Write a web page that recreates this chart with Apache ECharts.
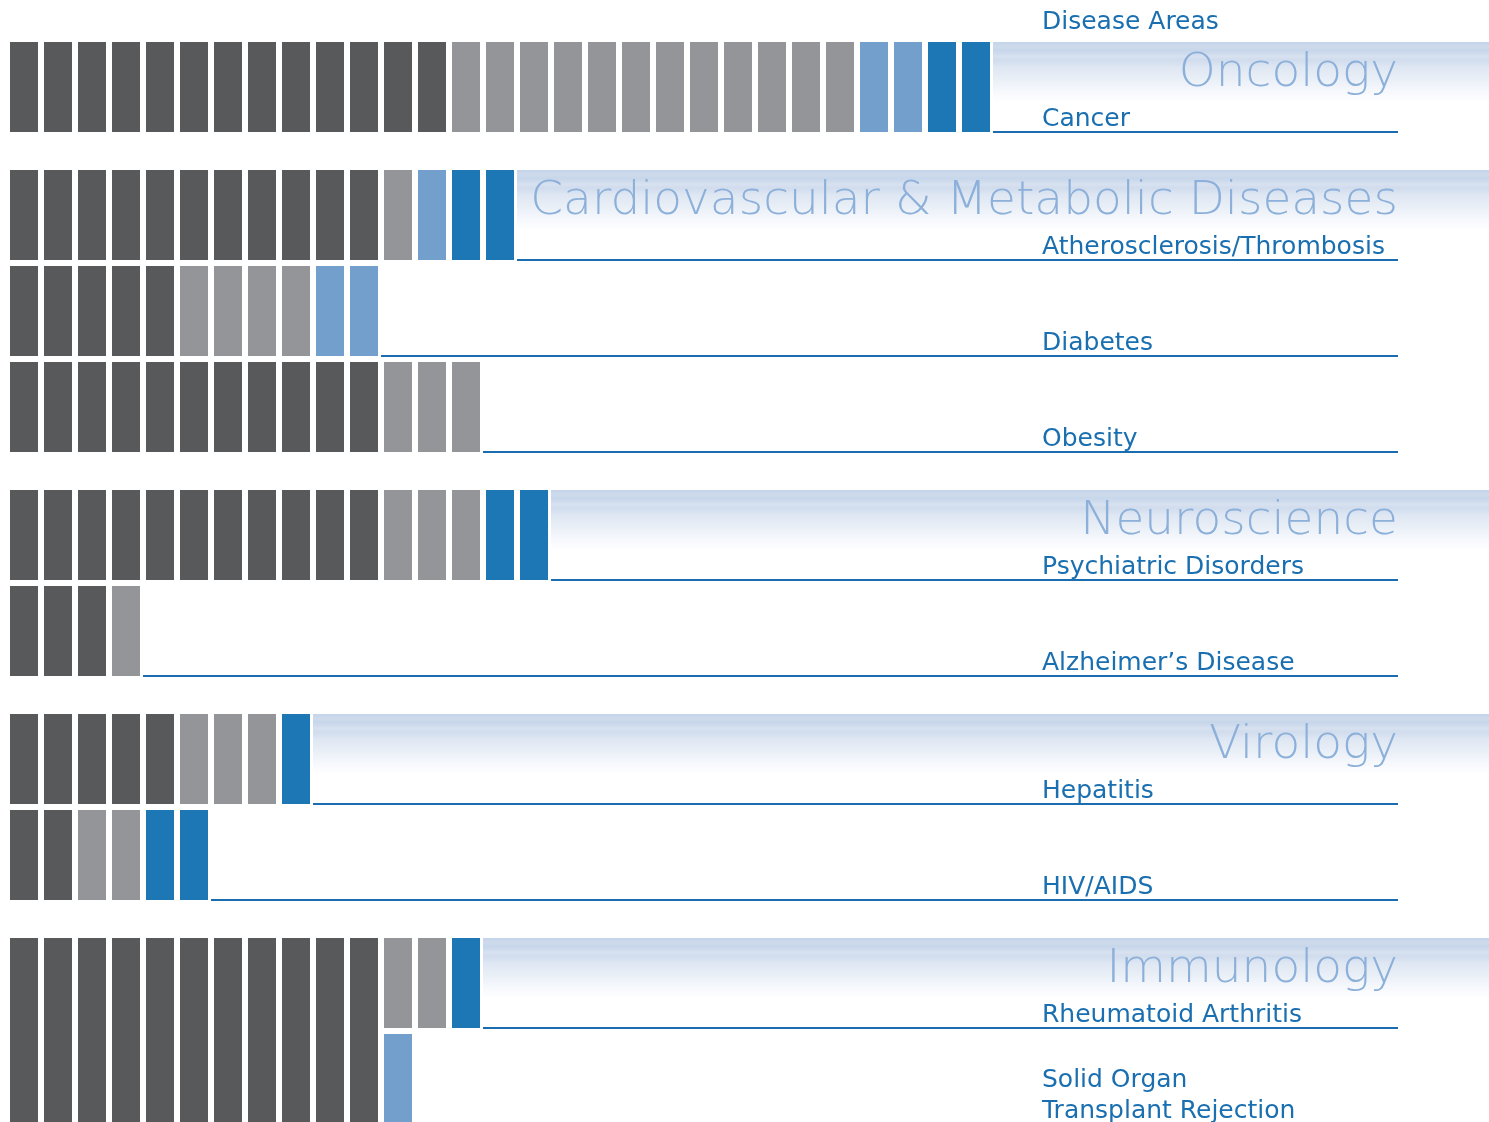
<!DOCTYPE html>
<html><head><meta charset="utf-8">
<script src="https://cdn.jsdelivr.net/npm/echarts@6/dist/echarts.min.js"></script>
<style>html,body{margin:0;padding:0;background:#fff;overflow:hidden}#c{width:1489px;height:1122px}</style>
</head><body><div id="c"></div>
<script>
// ---------------- data ----------------
const headerText = 'Disease Areas';
const groupNames = ['Oncology', 'Cardiovascular & Metabolic Diseases', 'Neuroscience', 'Virology', 'Immunology'];
const diseaseNames = ['Cancer', 'Atherosclerosis/Thrombosis', 'Diabetes', 'Obesity', 'Psychiatric Disorders',
  'Alzheimer\u2019s Disease', 'Hepatitis', 'HIV/AIDS', 'Rheumatoid Arthritis', 'Solid Organ\nTransplant Rejection'];
const diseaseGroup = [0, 1, 1, 1, 2, 2, 3, 3, 4, 4];
const stageNames = ['Stage 1', 'Stage 2', 'Stage 3', 'Stage 4'];
const stage1Counts = [13, 11, 5, 11, 11, 3, 5, 2, 11, 11];
const stage2Counts = [12, 1, 4, 3, 3, 1, 3, 2, 2, 0];
const stage3Counts = [2, 1, 2, 0, 0, 0, 0, 0, 0, 1];
const stage4Counts = [2, 2, 0, 0, 2, 0, 1, 2, 1, 0];
// stage-1 bars of this row are fused with the row above
const joinAbove = [false, false, false, false, false, false, false, false, false, true];

// ---------------- styles / layout ----------------
const stageColors = ['#58595b', '#939598', '#729fcb', '#1c77b4'];
const labelColor = '#1a6fb0';
const lineColor = '#1b6db0';
const titleColor = '#8cb0d9';
const PITCH = 34, BLOCK_W = 28, ROW_PX = 96, BLOCK_H = 90, GAP_PX = 6;
const GROUP_GAP = 1 / 3; // extra space (in rows) between groups
const LABEL_X = 1042, LINE_END_X = 1398;
const LABEL_SIZE = 25, LABEL_LH = 31, TITLE_SIZE = 47, TITLE_LH = 56;
const FONT = '"DejaVu Sans", "Noto Sans", sans-serif';
const MID = 0.346;

const stageCounts = [stage1Counts, stage2Counts, stage3Counts, stage4Counts];
const rowTop = diseaseNames.map((_, k) => k + diseaseGroup[k] * GROUP_GAP);

const blockData = [];
const rowData = [];
diseaseNames.forEach((name, k) => {
  let idx = 0;
  stageCounts.forEach((counts, s) => {
    for (let j = 0; j < counts[k]; j++) { blockData.push([idx, rowTop[k], s, k]); idx++; }
  });
  const first = k === 0 || diseaseGroup[k - 1] !== diseaseGroup[k];
  rowData.push([idx, rowTop[k], k, first ? 1 : 0]);
});

const chart = echarts.init(document.getElementById('c'), null, { renderer: 'canvas' });

function renderBlock(params, api) {
  const x0 = api.value(0), yT = api.value(1), s = api.value(2), k = api.value(3);
  const p0 = api.coord([x0, yT]);
  const p1 = api.coord([x0 + BLOCK_W / PITCH, yT + BLOCK_H / ROW_PX]);
  let top = p0[1];
  if (joinAbove[k] && s === 0 && k > 0) {
    top = api.coord([x0, rowTop[k - 1] + BLOCK_H / ROW_PX])[1] - 1;
  }
  return {
    type: 'rect',
    shape: { x: p0[0], y: top, width: p1[0] - p0[0], height: p1[1] - top },
    style: { fill: stageColors[s] }
  };
}

function renderRow(params, api) {
  const total = api.value(0), yT = api.value(1), k = api.value(2), first = api.value(3);
  const startX = api.coord([total - (GAP_PX / 2) / PITCH, yT])[0];
  const top = api.coord([0, yT])[1];
  const bottom = Math.round(api.coord([0, yT + BLOCK_H / ROW_PX])[1]);
  const W = api.getWidth();
  const children = [];
  if (first) {
    children.push({
      type: 'rect',
      shape: { x: startX, y: top, width: W - startX, height: 60 },
      style: {
        fill: new echarts.graphic.LinearGradient(0, 0, 0, 1, [
          { offset: 0, color: '#c4d4e9' },
          { offset: 0.08, color: '#cedbec' },
          { offset: 0.14, color: '#c7d6ea' },
          { offset: 0.24, color: '#d7e1f0' },
          { offset: 0.30, color: '#d0dced' },
          { offset: 0.42, color: '#dfe7f3' },
          { offset: 0.55, color: '#e5ecf5' },
          { offset: 0.72, color: '#f0f4fa' },
          { offset: 1, color: '#ffffff' }
        ])
      }
    });
    const tb = top + 48;
    children.push({
      type: 'text',
      style: {
        text: groupNames[diseaseGroup[k]], x: LINE_END_X, y: tb + TITLE_LH / 2 - MID * TITLE_SIZE,
        align: 'right', verticalAlign: 'bottom', lineHeight: TITLE_LH,
        font: '200 ' + TITLE_SIZE + 'px ' + FONT, fill: titleColor
      }
    });
  }
  children.push({
    type: 'line',
    shape: { x1: startX, y1: bottom, x2: LINE_END_X, y2: bottom },
    style: { stroke: lineColor, lineWidth: 2 }
  });
  const lb = bottom - 4;
  children.push({
    type: 'text',
    style: {
      text: diseaseNames[k], x: LABEL_X, y: lb + LABEL_LH / 2 - MID * LABEL_SIZE,
      align: 'left', verticalAlign: 'bottom', lineHeight: LABEL_LH,
      font: LABEL_SIZE + 'px ' + FONT, fill: labelColor
    }
  });
  return { type: 'group', children };
}

chart.setOption({
  animation: false,
  backgroundColor: '#ffffff',
  grid: { left: 10, right: 85, top: 42, bottom: 72 },
  xAxis: { type: 'value', min: 0, max: 41, show: false },
  yAxis: { type: 'value', min: 0, max: 10.5, inverse: true, show: false },
  graphic: [{
    type: 'text', x: LABEL_X, y: 31 + LABEL_LH / 2 - MID * LABEL_SIZE,
    style: { text: headerText, verticalAlign: 'bottom', lineHeight: LABEL_LH, font: LABEL_SIZE + 'px ' + FONT, fill: labelColor }
  }],
  series: [
    { type: 'custom', name: 'rows', renderItem: renderRow, data: rowData, clip: false, silent: true, z: 1 },
    { type: 'custom', name: 'blocks', renderItem: renderBlock, data: blockData, clip: false, z: 2 }
  ]
});
</script></body></html>
